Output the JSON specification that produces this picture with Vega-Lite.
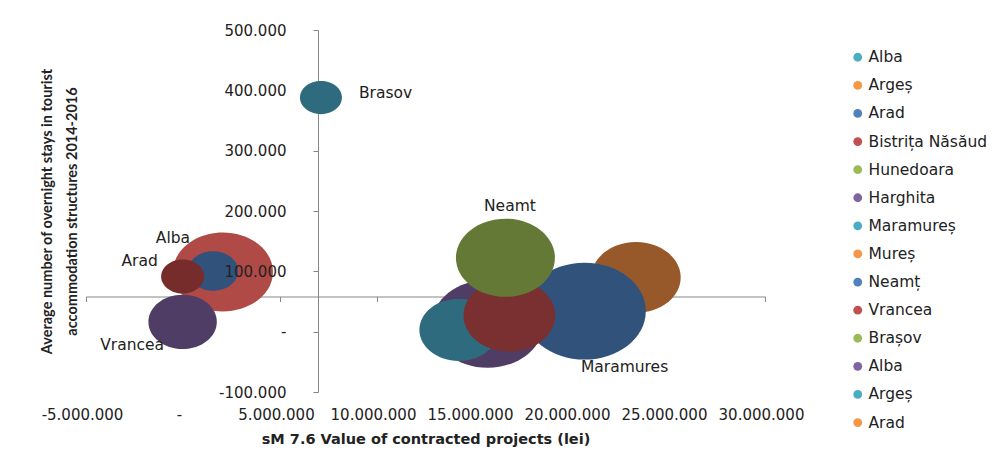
{
  "$schema": "https://vega.github.io/schema/vega-lite/v6.json",
  "width": 679,
  "height": 362,
  "autosize": "none",
  "padding": {"left": 86, "top": 30, "right": 241, "bottom": 65},
  "background": "white",
  "config": {"view": {"stroke": null}},
  "datasets": {
    "counties": [
      {"county": "Brasov", "contracted_lei": 7110000, "overnight_stays": 388000, "bubble_size": 17.6},
      {"county": "Alba", "contracted_lei": 2060000, "overnight_stays": 99000, "bubble_size": 100},
      {"county": "Mures", "contracted_lei": 1550000, "overnight_stays": 100700, "bubble_size": 25},
      {"county": "Arad", "contracted_lei": -20000, "overnight_stays": 91600, "bubble_size": 18.5},
      {"county": "Vrancea", "contracted_lei": -20000, "overnight_stays": 16200, "bubble_size": 46.8},
      {"county": "Arges", "contracted_lei": 23350000, "overnight_stays": 89900, "bubble_size": 79.9},
      {"county": "Maramures", "contracted_lei": 20700000, "overnight_stays": 34000, "bubble_size": 150},
      {"county": "Harghita", "contracted_lei": 15700000, "overnight_stays": 12900, "bubble_size": 123},
      {"county": "Hunedoara", "contracted_lei": 14220000, "overnight_stays": 3000, "bubble_size": 62.4},
      {"county": "Bistrita Nasaud", "contracted_lei": 16820000, "overnight_stays": 27000, "bubble_size": 84},
      {"county": "Neamt", "contracted_lei": 16620000, "overnight_stays": 122500, "bubble_size": 98}
    ],
    "legend_entries": [
      {"legend_key": "01|Alba"},
      {"legend_key": "02|Argeș"},
      {"legend_key": "03|Arad"},
      {"legend_key": "04|Bistrița Năsăud"},
      {"legend_key": "05|Hunedoara"},
      {"legend_key": "06|Harghita"},
      {"legend_key": "07|Maramureș"},
      {"legend_key": "08|Mureș"},
      {"legend_key": "09|Neamț"},
      {"legend_key": "10|Vrancea"},
      {"legend_key": "11|Brașov"},
      {"legend_key": "12|Alba"},
      {"legend_key": "13|Argeș"},
      {"legend_key": "14|Arad"}
    ]
  },
  "data": {"name": "counties"},
  "resolve": {"axis": {"x": "independent", "y": "independent"}},
  "layer": [
    {
      "mark": {
        "type": "point",
        "shape": "M-1,0A1,0.79,0,1,1,1,0A1,0.79,0,1,1,-1,0Z",
        "filled": true,
        "opacity": 1,
        "strokeWidth": 0
      },
      "encoding": {
        "x": {
          "field": "contracted_lei",
          "type": "quantitative",
          "scale": {"domain": [-5000000, 30000000], "nice": false, "zero": false},
          "axis": {
            "orient": "bottom",
            "values": [-5000000, 0, 5000000, 10000000, 15000000, 20000000, 25000000, 30000000],
            "domain": false,
            "ticks": false,
            "grid": false,
            "labelExpr": "datum.value === 0 ? '-\u00a0\u00a0' : replace(replace(format(datum.value, ','), regexp(',', 'g'), '.'), '\u2212', '-')",
            "labelFont": "DejaVu Sans",
            "labelFontSize": 15,
            "labelColor": "#222222",
            "labelPadding": 15,
            "labelOffset": -4,
            "labelFlush": false,
            "labelOverlap": false,
            "title": "sM 7.6 Value of contracted projects (lei)",
            "titleFont": "DejaVu Sans",
            "titleFontWeight": "bold",
            "titleFontSize": 14.5,
            "titleColor": "#222222",
            "titlePadding": 10
          }
        },
        "y": {
          "field": "overnight_stays",
          "type": "quantitative",
          "scale": {"domain": [-100000, 500000], "nice": false, "zero": false},
          "axis": {
            "orient": "left",
            "offset": -232,
            "values": [-100000, 0, 100000, 200000, 300000, 400000, 500000],
            "labels": false,
            "title": null,
            "grid": false,
            "domain": true,
            "domainColor": "#868686",
            "ticks": true,
            "tickColor": "#868686",
            "tickSize": 5,
            "zindex": 0
          }
        },
        "size": {
          "field": "bubble_size",
          "type": "quantitative",
          "scale": {"domain": [0, 160], "range": [0, 16000], "zero": true},
          "legend": null
        },
        "fill": {
          "field": "county",
          "type": "nominal",
          "scale": {
            "domain": ["Brasov", "Alba", "Mures", "Arad", "Vrancea", "Arges", "Maramures", "Harghita", "Hunedoara", "Bistrita Nasaud", "Neamt"],
            "range": ["#2E6B7E", "#B04A47", "#31527A", "#772C2C", "#4F3D66", "#97592A", "#31527A", "#4F3D66", "#2E6B7E", "#7A3030", "#657937"]
          },
          "legend": null
        }
      }
    },
    {
      "data": {"name": "legend_entries"},
      "mark": {"type": "point", "filled": true, "opacity": 0},
      "encoding": {
        "color": {
          "field": "legend_key",
          "type": "nominal",
          "scale": {
            "domain": ["01|Alba", "02|Argeș", "03|Arad", "04|Bistrița Năsăud", "05|Hunedoara", "06|Harghita", "07|Maramureș", "08|Mureș", "09|Neamț", "10|Vrancea", "11|Brașov", "12|Alba", "13|Argeș", "14|Arad"],
            "range": ["#4BACC6", "#F79646", "#4F81BD", "#C0504D", "#9BBB59", "#8064A2", "#4BACC6", "#F79646", "#4F81BD", "#C0504D", "#9BBB59", "#8064A2", "#4BACC6", "#F79646"]
          },
          "legend": {
            "orient": "none",
            "legendX": 764,
            "legendY": 19.5,
            "title": null,
            "labelExpr": "split(datum.label, '|')[1]",
            "symbolType": "circle",
            "symbolSize": 78,
            "symbolOpacity": 1,
            "symbolStrokeWidth": 0,
            "labelFont": "DejaVu Sans",
            "labelFontSize": 15.5,
            "labelColor": "#222222",
            "labelOffset": 3,
            "labelLimit": 300,
            "rowPadding": 11.1,
            "padding": 0
          }
        }
      }
    },
    {
      "transform": [{"filter": "datum.county === 'Brasov'"}],
      "mark": {"type": "text", "align": "left", "baseline": "middle", "dx": 38, "dy": -5, "font": "DejaVu Sans", "fontSize": 15.5, "color": "#222222"},
      "encoding": {
        "x": {
          "field": "contracted_lei",
          "type": "quantitative",
          "axis": {
            "orient": "bottom",
            "offset": -95.5,
            "values": [-5000000, 0, 5000000, 10000000, 15000000, 20000000, 25000000, 30000000],
            "labels": false,
            "title": null,
            "grid": false,
            "domain": true,
            "domainColor": "#868686",
            "ticks": true,
            "tickColor": "#868686",
            "tickSize": 5,
            "zindex": 0
          }
        },
        "y": {
          "field": "overnight_stays",
          "type": "quantitative",
          "axis": {
            "orient": "left",
            "offset": -232,
            "values": [-100000, 0, 100000, 200000, 300000, 400000, 500000],
            "domain": false,
            "ticks": false,
            "grid": false,
            "labelExpr": "datum.value === 0 ? '-\u00a0' : replace(replace(format(datum.value, ','), regexp(',', 'g'), '.'), '\u2212', '-')",
            "labelFont": "DejaVu Sans",
            "labelFontSize": 15,
            "labelColor": "#222222",
            "labelPadding": 32,
            "title": ["Average number of overnight stays in tourist", "accommodation structures 2014-2016"],
            "titleFont": "Liberation Sans Narrow, Lato",
            "titleFontWeight": "bold",
            "titleFontSize": 14.5,
            "titleColor": "#222222",
            "titleAngle": 270,
            "titleAlign": "center",
            "titleBaseline": "middle",
            "titleLineHeight": 25,
            "titleX": -271,
            "titleY": 181,
            "zindex": 1
          }
        },
        "text": {"field": "county"}
      }
    },
    {
      "transform": [{"filter": "datum.county === 'Alba'"}],
      "mark": {"type": "text", "align": "center", "baseline": "middle", "dx": -50, "dy": -33.5, "font": "DejaVu Sans", "fontSize": 15.5, "color": "#222222"},
      "encoding": {
        "x": {"field": "contracted_lei", "type": "quantitative", "axis": null},
        "y": {"field": "overnight_stays", "type": "quantitative", "axis": null},
        "text": {"field": "county"}
      }
    },
    {
      "transform": [{"filter": "datum.county === 'Arad'"}],
      "mark": {"type": "text", "align": "center", "baseline": "middle", "dx": -43, "dy": -15, "font": "DejaVu Sans", "fontSize": 15.5, "color": "#222222"},
      "encoding": {
        "x": {"field": "contracted_lei", "type": "quantitative", "axis": null},
        "y": {"field": "overnight_stays", "type": "quantitative", "axis": null},
        "text": {"field": "county"}
      }
    },
    {
      "transform": [{"filter": "datum.county === 'Vrancea'"}],
      "mark": {"type": "text", "align": "center", "baseline": "middle", "dx": -50.5, "dy": 23.5, "font": "DejaVu Sans", "fontSize": 15.5, "color": "#222222"},
      "encoding": {
        "x": {"field": "contracted_lei", "type": "quantitative", "axis": null},
        "y": {"field": "overnight_stays", "type": "quantitative", "axis": null},
        "text": {"field": "county"}
      }
    },
    {
      "transform": [{"filter": "datum.county === 'Neamt'"}],
      "mark": {"type": "text", "align": "center", "baseline": "middle", "dx": 4.5, "dy": -51.3, "font": "DejaVu Sans", "fontSize": 15.5, "color": "#222222"},
      "encoding": {
        "x": {"field": "contracted_lei", "type": "quantitative", "axis": null},
        "y": {"field": "overnight_stays", "type": "quantitative", "axis": null},
        "text": {"field": "county"}
      }
    },
    {
      "transform": [{"filter": "datum.county === 'Maramures'"}],
      "mark": {"type": "text", "align": "center", "baseline": "middle", "dx": 40, "dy": 56, "font": "DejaVu Sans", "fontSize": 15.5, "color": "#222222"},
      "encoding": {
        "x": {"field": "contracted_lei", "type": "quantitative", "axis": null},
        "y": {"field": "overnight_stays", "type": "quantitative", "axis": null},
        "text": {"field": "county"}
      }
    }
  ]
}
